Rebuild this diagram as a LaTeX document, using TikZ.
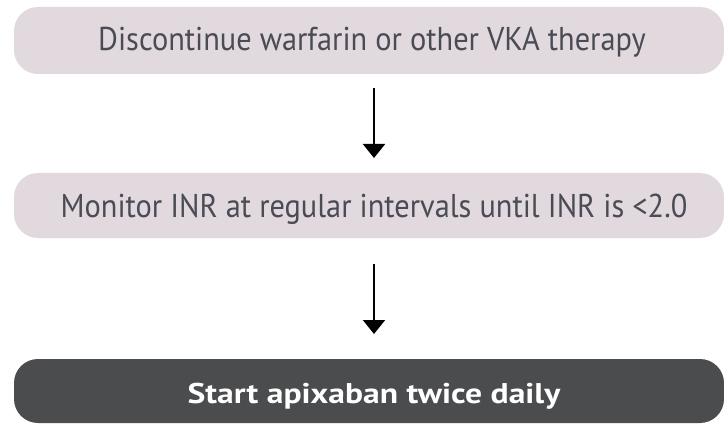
\documentclass[tikz,border=0pt]{standalone}
\usepackage{fontspec}
\setmainfont{PT Sans}[FakeStretch=0.92]
\newfontfamily\finalfont{PT Sans Bold}[FakeStretch=1.18]
\usetikzlibrary{arrows.meta}
\definecolor{stepfill}{HTML}{E1D9DE}
\definecolor{steptext}{HTML}{4A4B55}
\definecolor{finalfill}{HTML}{4B4C4E}
\tikzset{
  x=1pt, y=1pt,
  stepbox/.style={fill=stepfill, rounded corners=24pt},
  finalbox/.style={fill=finalfill, rounded corners=24pt},
  steplabel/.style={text=steptext, font=\fontsize{33}{36}\selectfont, inner sep=0pt, anchor=base},
  finallabel/.style={text=white, font=\finalfont\fontsize{28.5}{31}\selectfont, inner sep=0pt, anchor=base},
  flow/.style={line width=2pt, -{Triangle[length=14pt, width=22pt]}}
}
\begin{document}
\begin{tikzpicture}
\useasboundingbox (0,0) rectangle (724,424);
% three stacked step boxes
\fill[stepbox]  (14,350) rectangle (724,417);
\fill[stepbox]  (14,186) rectangle (724,251);
\fill[finalbox] (14,1)   rectangle (724,65);
\node[steplabel]  (t1) at (372,373) {Discontinue warfarin or other VKA therapy};
\node[steplabel]  (t2) at (374,206) {Monitor INR at regular intervals until INR is <2.0};
\node[finallabel] (t3) at (374,21) {Start apixaban twice daily};
% arrows between the steps
\coordinate (a1s) at (374,336);
\coordinate (a1e) at (374,266);
\coordinate (a2s) at (374,160);
\coordinate (a2e) at (374,90);
\draw[flow] (a1s) -- (a1e);
\draw[flow] (a2s) -- (a2e);
\end{tikzpicture}
\end{document}
